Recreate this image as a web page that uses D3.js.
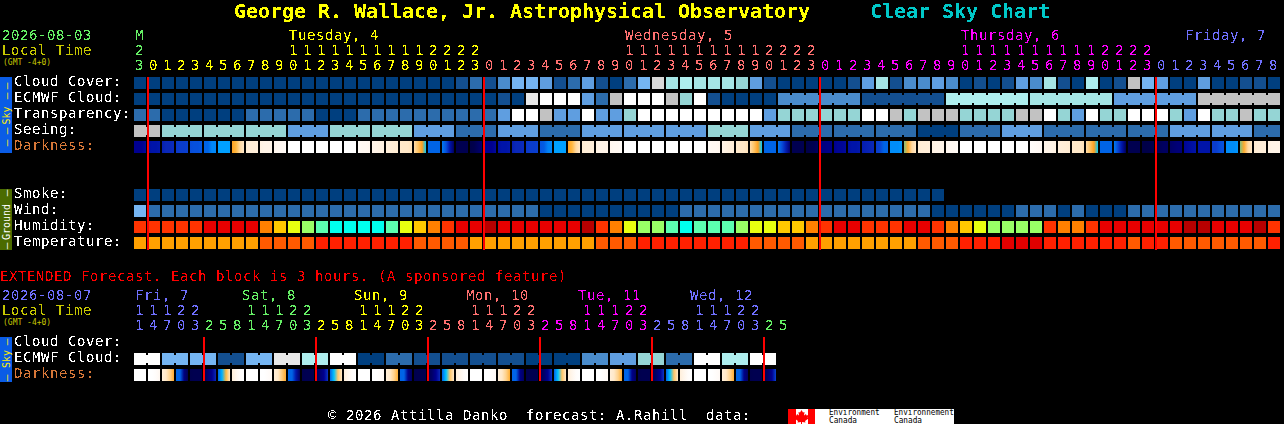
<!DOCTYPE html>
<html>
<head>
<meta charset="utf-8">
<title>Clear Sky Chart</title>
<script src="https://cdn.jsdelivr.net/npm/d3@7"></script>
<style>
html, body { margin: 0; background: #000; }
svg { display: block; }
text { font-family: "DejaVu Sans Mono", monospace; font-size: 14px; letter-spacing: 0.5713px; white-space: pre; }
rect { shape-rendering: crispEdges; }
</style>
</head>
<body>
<div class="chart"></div>
<script>
// cloud style levels: 0-8 dark blue to pale teal, 9-12 grey to white
var levelColors = ["#003f7f", "#134f90", "#2c6cac", "#4a8ccc", "#5f9ee0", "#75b5f2", "#95d5d5", "#a5e5e5", "#aeeeee", "#c2c2c2", "#d8d8d8", "#e8e8e8", "#ffffff"];

var cloudCover = [0,0,0,0,0,0,0,0,0,0,0,0,0,0,0,0,0,0,0,0,0,
  0,0,1,2,1,3,5,5,4,1,2,4,1,0,2,5,10,7,8,7,7,7,6,4,1,
  0,0,0,0,0,1,4,7,1,3,3,4,3,0,1,0,1,4,3,7,1,0,8,0,1,9,5,4,0,0,4,0,0,1,1,0];

// first 46 hours are single blocks, after that six-hour blocks
var ecmwfHourly = [0,0,0,0,0,0,0,0,0,0,0,0,0,0,0,0,0,0,0,0,0,
  0,0,0,0,0,1,0,11,12,12,12,4,2,9,12,12,12,9,6,12,1,0,0,0,0];
var ecmwfSixHour = [3,1,8,7,4,9];

var transparency = [2,2,0,0,0,0,0,0,2,2,2,2,2,0,0,0,2,2,2,2,2,
  2,2,2,2,2,4,12,12,9,4,4,12,4,4,6,12,12,12,12,12,12,12,12,12,4,
  6,6,6,6,6,6,12,12,9,6,9,9,9,6,6,6,6,9,9,12,6,4,12,6,6,12,12,12,6,4,12,6,6,9,6,6];

var seeingBlocks = [9,6,6,6,4,6,6,4,2,4,2,4,4,4,6,4,2,2,2,0,2,4,2,2,2,4,4,2];
var seeingSpans = [2,3,3,3,3,3,3,3,3,3,3,3,3,3,3,3,3,3,3,3,3,3,3,3,3,3,3,2];

var smoke = [0,0,0,0,0,0,0,0,0,0,0,0,0,0,0,0,0,0,0,0,0,0,0,0,0,0,0,0,0,
  0,0,0,0,0,0,0,0,0,0,0,0,0,0,0,0,0,0,0,0,0,0,0,0,0,0,0,0,0];

var wind = [5,2,2,2,2,2,2,2,2,2,2,2,2,2,2,2,2,2,2,2,2,
  2,2,2,2,2,2,2,2,0,0,0,0,0,0,0,0,0,0,2,2,2,2,2,2,2,2,2,2,2,2,2,
  2,2,2,2,2,0,0,0,0,0,0,2,2,2,0,2,0,0,0,2,2,2,2,2,2,2,2,2,2,2];

var humidityColors = ["#ff3300", "#e80000", "#b80000", "#ff8000", "#ffc800", "#e8ff10", "#99ff66", "#5cffb0", "#00ffee"];
var humidity = [0,0,0,0,0,1,1,1,1,3,4,5,6,7,8,8,8,8,7,5,4,
  3,0,1,1,2,1,1,1,1,1,1,2,0,3,5,6,6,7,8,7,7,7,6,5,5,4,4,3,0,1,1,
  0,0,0,1,1,0,3,4,5,6,6,6,6,0,3,3,0,1,1,1,1,1,1,2,2,1,1,1,2,0];

var temperatureColors = ["#ffa000", "#ff5a00", "#ff2000", "#e00000"];
var temperature = [0,0,0,0,0,0,0,0,0,1,1,1,1,2,2,2,2,2,2,2,1,
  1,1,1,0,0,0,0,0,0,0,0,0,1,1,1,2,2,2,2,2,2,2,2,1,1,1,1,0,0,0,0,
  0,0,0,0,1,1,1,2,2,2,3,3,3,2,2,2,2,2,2,1,2,2,1,1,1,1,1,1,1,2];

// darkness as limiting magnitude, four readings across every block
var darkDomain = [6.5, 6.2, 5.8, 5.4, 5, 4.5, 4, 3.5, 3, 2.5, 2, 1.5, 1, 0.5, 0, -0.5, -1, -1.5, -2, -2.5, -3];
var darkRange = ["#000048", "#000050", "#000070", "#000090", "#0014a8", "#0a28b8", "#0a3ccc", "#0650dc", "#0064e6", "#0088f8", "#00a0ff", "#00ccff", "#80c080", "#ffa020", "#ffb840", "#ffd8a0", "#ffe8c8", "#ffeed8", "#fff4e8", "#fff8f2", "#ffffff"];

var darkness = [
  [5.4,5.4,5.4,5.2],[5.1,5,5,4.9],[4.7,4.5,4.5,4.4],[4.1,4,4,3.9],[3.6,3.5,3.5,3.3],[3,3,2.5,2.5],[2,2,2,2],
  [0.5,0,-0.5,-1],[-1.3,-1.5,-1.5,-1.6],[-1.8,-2,-2,-2],[-2.3,-2.5,-2.5,-2.7],
  [-3,-3,-3,-3],[-3,-3,-3,-3],[-3,-3,-3,-3],[-3,-3,-3,-3],[-3,-3,-3,-3],
  [-2.7,-2.5,-2.5,-2.3],[-2,-2,-1.8,-1.8],[-1.6,-1.5,-1.4,-1.3],[-1.1,-1,-1,-0.8],[-0.6,-0.2,0.5,1.5],
  [3,3,3,3],[2.7,3.5,5,6],[6.2,6.2,6.2,6.2],[6.5,6.3,6,5.8],
  [5.4,5.4,5.4,5.2],[5.1,5,5,4.9],[4.7,4.5,4.5,4.4],[4.1,4,4,3.9],[3.4,3.2,2.6,2.5],[2,2,2,2],
  [0.5,0,-0.5,-1],[-1.3,-1.5,-1.5,-1.6],[-1.8,-2,-2,-2],[-2.3,-2.5,-2.5,-2.7],
  [-3,-3,-3,-3],[-3,-3,-3,-3],[-3,-3,-3,-3],[-3,-3,-3,-3],[-3,-3,-3,-3],[-3,-3,-3,-3],
  [-2.7,-2.5,-2.5,-2.3],[-2,-1.8,-1.6,-1.5],[-1.2,-1,-1,-0.8],[-0.6,-0.2,0.5,1.5],
  [3,3,3,3],[2.7,3.6,4.8,5.8],[6.2,6.2,6.2,6.2],[6.5,6.3,6.2,6],
  [5.6,5.6,5.5,5.5],[5.4,5.3,5.3,5.2],[5.1,5,5,4.9],
  [4.8,4.7,4.6,4.5],[4,3.8,3,3],[2.4,2.4,2.4,2.2],[1,0.3,-0.5,-1],[-1.3,-1.5,-1.5,-1.6],[-1.8,-2,-2,-2],[-2.3,-2.5,-2.5,-2.7],
  [-3,-3,-3,-3],[-3,-3,-3,-3],[-3,-3,-3,-3],[-3,-3,-3,-3],[-3,-3,-3,-3],
  [-2.8,-2.7,-2.6,-2.5],[-2.1,-2,-2,-1.8],[-1.6,-1.5,-1.4,-1.3],[-1.1,-1,-1,-0.8],[-0.6,-0.2,0.5,1.5],
  [3,3,3,3],[2.7,3.8,5,6.1],[6.2,6.2,6.2,6.2],[6.5,6.5,6.4,6.3],[6.2,6.1,6,6],[5.9,5.8,5.7,5.7],[5.3,5.2,5.1,5],
  [5,5,5,5],[4,4,3.6,3.4],[2.4,2.4,2.4,2.2],[1,0.3,-0.5,-1],[-1.3,-1.5,-1.5,-1.6],[-1.8,-2,-2,-2]
];

var extEcmwf = [12,5,5,1,5,11,8,12,0,2,1,1,1,1,0,0,3,4,6,2,12,8,12];

var extDarkness = [
  [-3,-3,-3,-3],[-3,-3,-2.8,-2.4],[-1.6,-1,-0.4,0.3],[3,3,5.6,6.2],[6.3,6.2,6.2,6.2],[6.2,5.8,5.4,4.5],[3,1.8,0,-1],[-1.5,-2.2,-2.8,-3],
  [-3,-3,-3,-3],[-3,-3,-2.8,-2.6],[-1.5,-1,-0.3,0.3],[3,3,5,6],[6.3,6.2,6.2,6.2],[6.2,5.8,5.4,4.2],[3,1.6,-0.2,-1],[-1.6,-2.2,-2.8,-3],
  [-3,-3,-3,-3],[-3,-3,-2.8,-2.6],[-1.5,-1,-0.4,0.2],[3,3,5.5,6],[6.3,6.2,6.2,6.2],[6.2,5.9,5.4,4.5],[3,1.6,-0.2,-1],[-1.6,-2.2,-2.8,-3],
  [-3,-3,-3,-3],[-3,-3,-2.8,-2.6],[-1.5,-1,-0.4,0.2],[3,3,5.5,6],[6.3,6.2,6.2,6.2],[6.2,5.9,5.4,4.2],[3,1.6,-0.2,-1],[-1.6,-2.2,-2.8,-3],
  [-3,-3,-3,-3],[-3,-3,-2.8,-2.6],[-1.5,-1,-0.4,0.2],[3,3,5.5,6],[6.3,6.2,6.2,6.2],[6.2,5.9,5.4,4.2],[3,1.6,-0.2,-1],[-1.6,-2.2,-2.8,-3],
  [-3,-3,-3,-3],[-3,-3,-2.8,-2.6],[-1.5,-1,-0.4,0.2],[3,3,5.5,6],[6.3,6.2,6.2,6.2],[6.2,5.9,5.4,3.8]
];

// hour ticks, each with the colour of its day
var green = "#66f066", yellow = "#ffff00", salmon = "#ff7070", magenta = "#ff00ff", blue = "#7070ff";
var hourTens = ["2","","","","","","","","","","","1","1","1","1","1","1","1","1","1","1","2","2","2","2",
  "","","","","","","","","","","1","1","1","1","1","1","1","1","1","1","2","2","2","2",
  "","","","","","","","","","","1","1","1","1","1","1","1","1","1","1","2","2","2","2",
  "","","","","","","","",""];
var hourOnes = ["3","0","1","2","3","4","5","6","7","8","9","0","1","2","3","4","5","6","7","8","9","0","1","2","3",
  "0","1","2","3","4","5","6","7","8","9","0","1","2","3","4","5","6","7","8","9","0","1","2","3",
  "0","1","2","3","4","5","6","7","8","9","0","1","2","3","4","5","6","7","8","9","0","1","2","3",
  "0","1","2","3","4","5","6","7","8"];
var hourDays = [[1, green], [24, yellow], [24, salmon], [24, magenta], [9, blue]];
var dayLabels = [["M", 0, green], ["Tuesday, 4", 11, yellow], ["Wednesday, 5", 35, salmon], ["Thursday, 6", 59, magenta], ["Friday, 7", 75, blue]];
var midnights = [1, 25, 49, 73];

var extTens = ["1","1","1","2","2","","","","1","1","1","2","2","","","","1","1","1","2","2","","","","1","1","1","2","2","","","","1","1","1","2","2","","","","1","1","1","2","2","",""];
var extOnes = ["1","4","7","0","3","2","5","8","1","4","7","0","3","2","5","8","1","4","7","0","3","2","5","8","1","4","7","0","3","2","5","8","1","4","7","0","3","2","5","8","1","4","7","0","3","2","5"];
var extDays = [[5, blue], [8, green], [8, yellow], [8, salmon], [8, magenta], [8, blue], [2, green]];
var extDayLabels = [["Fri, 7", 135, blue], ["Sat, 8", 242, green], ["Sun, 9", 354, yellow], ["Mon, 10", 466, salmon], ["Tue, 11", 578, magenta], ["Wed, 12", 690, blue]];
var extMidnights = [5, 13, 21, 29, 37, 45];

var skyRows = ["Cloud Cover:", "ECMWF Cloud:", "Transparency:", "Seeing:", "Darkness:"];
var groundRows = ["Smoke:", "Wind:", "Humidity:", "Temperature:"];
var extRows = ["Cloud Cover:", "ECMWF Cloud:", "Darkness:"];

var svg = d3.select(".chart").append("svg").attr("width", 1284).attr("height", 424);
var defs = svg.append("defs");

// hard edged text, the original is drawn without smoothing
var filter = defs.append("filter").attr("id", "hard");
filter.append("feComponentTransfer").append("feFuncA").attr("type", "discrete").attr("tableValues", "0 0 1 1");

var marks = svg.append("g");
var labels = svg.append("g").attr("filter", "url(#hard)");
var small = svg.append("g"); // tiny text falls apart under the hard filter

var xHour = d3.scaleBand().domain(d3.range(82)).range([134, 1280]).paddingInner(1 / 7);
var xExt = d3.scaleBand().domain(d3.range(47)).range([134, 790]).paddingInner(1 / 7);
var ySky = d3.scaleBand().domain(skyRows).range([77, 153]).paddingInner(0.25);
var yGround = d3.scaleBand().domain(groundRows).range([189, 249]).paddingInner(0.25);
var yExt = d3.scaleBand().domain(extRows).range([337, 381]).paddingInner(0.25);
var level = d3.scaleOrdinal().domain(d3.range(13)).range(levelColors);
var darkColor = d3.scaleLinear().domain(darkDomain).range(darkRange);

function cells(name, values, x, y, color) {
  marks.append("g").attr("class", name).selectAll("rect")
    .data(values)
    .enter()
    .append("rect")
    .attr("x", function(d, i) { return x(i); })
    .attr("y", y)
    .attr("width", x.bandwidth())
    .attr("height", 12)
    .attr("fill", color);
}

// blocks of several cells hang together by a short bridge over each gap
function blocks(name, values, spans, x, y, color) {
  var col = 0;
  var g = marks.append("g").attr("class", name);
  values.forEach(function(v, b) {
    for (var i = 0; i < spans[b]; i++) {
      g.append("rect").attr("x", x(col)).attr("y", y)
        .attr("width", x.bandwidth()).attr("height", 12).attr("fill", color(v));
      if (i < spans[b] - 1) {
        g.append("rect").attr("x", x(col) + x.bandwidth()).attr("y", y + 2)
          .attr("width", x.step() - x.bandwidth()).attr("height", 8).attr("fill", color(v));
      }
      col++;
    }
  });
}

function darkCells(name, values, x, y) {
  values.forEach(function(d, i) {
    var id = name + i;
    var grad = defs.append("linearGradient").attr("id", id);
    grad.selectAll("stop").data(d).enter().append("stop")
      .attr("offset", function(m, j) { return j / (d.length - 1); })
      .attr("stop-color", function(m) { return darkColor(m); });
  });
  cells(name, values, x, y, function(d, i) { return "url(#" + name + i + ")"; });
}

function midnightLines(cols, x, top, bottom) {
  marks.append("g").selectAll("rect")
    .data(cols)
    .enter()
    .append("rect")
    .attr("x", function(d) { return x(d) - 1; })
    .attr("y", top)
    .attr("width", 2)
    .attr("height", bottom - top)
    .attr("fill", "#ff0000");
}

function rowLabels(rows, y) {
  labels.append("g").selectAll("text")
    .data(rows)
    .enter()
    .append("text")
    .attr("x", 14)
    .attr("y", function(d) { return y(d) + 9; })
    .attr("fill", function(d) { return d == "Darkness:" ? "#d87838" : "#ffffff"; })
    .text(function(d) { return d; });
}

// colour of every hour label, from the day it belongs to
function dayColors(days) {
  var out = [];
  days.forEach(function(d) { for (var i = 0; i < d[0]; i++) out.push(d[1]); });
  return out;
}

function digits(values, colors, x, y) {
  labels.append("g").selectAll("text")
    .data(values)
    .enter()
    .append("text")
    .attr("x", function(d, i) { return x(i) + 1; })
    .attr("y", y)
    .attr("fill", function(d, i) { return colors[i]; })
    .text(function(d) { return d; });
}

function sideBar(top, bottom, fill, name, nameY, textColor, dashes) {
  marks.append("rect").attr("x", 0).attr("y", top).attr("width", 12).attr("height", bottom - top).attr("fill", fill);
  small.append("text").attr("transform", "translate(10," + nameY + ") rotate(-90)")
    .attr("text-anchor", "middle").attr("fill", textColor)
    .style("font-size", "10px").style("letter-spacing", "0").text(name);
  small.append("g").selectAll("text")
    .data(dashes)
    .enter()
    .append("text")
    .attr("transform", function(d) { return "translate(10," + d + ") rotate(-90)"; })
    .attr("text-anchor", "middle").attr("fill", textColor)
    .style("font-size", "11px").style("letter-spacing", "0").text("\u2013");
}

function plainText(str, x, y, color, parent) {
  return (parent || labels).append("text").attr("x", x).attr("y", y).attr("fill", color).text(str);
}

// title
plainText("George R. Wallace, Jr. Astrophysical Observatory", 234, 18, "#ffff00").style("font-size", "20px").style("font-weight", "bold").style("letter-spacing", "-0.04px");
plainText("Clear Sky Chart", 870, 18, "#00c8c8").style("font-size", "20px").style("font-weight", "bold").style("letter-spacing", "-0.04px");

// hourly header
plainText("2026-08-03", 2, 40, green);
plainText("Local Time", 2, 55, "#c8c800");
plainText("(GMT -4+0)", 3, 65, "#c8c800", small).style("font-size", "8px").style("letter-spacing", "0");
dayLabels.forEach(function(d) { plainText(d[0], xHour(d[1]) + 1, 40, d[2]); });
var hourColors = dayColors(hourDays);
digits(hourTens, hourColors, xHour, 55);
digits(hourOnes, hourColors, xHour, 70);

// hourly rows
cells("cloud", cloudCover, xHour, ySky("Cloud Cover:"), function(d) { return level(d); });
blocks("ecmwf", ecmwfHourly.concat(ecmwfSixHour), ecmwfHourly.map(function() { return 1; }).concat(ecmwfSixHour.map(function() { return 6; })), xHour, ySky("ECMWF Cloud:"), level);
cells("transparency", transparency, xHour, ySky("Transparency:"), function(d) { return level(d); });
blocks("seeing", seeingBlocks, seeingSpans, xHour, ySky("Seeing:"), level);
darkCells("dark", darkness, xHour, ySky("Darkness:"));
cells("smoke", smoke, xHour, yGround("Smoke:"), function(d) { return level(d); });
cells("wind", wind, xHour, yGround("Wind:"), function(d) { return level(d); });
cells("humidity", humidity, xHour, yGround("Humidity:"), function(d) { return humidityColors[d]; });
cells("temperature", temperature, xHour, yGround("Temperature:"), function(d) { return temperatureColors[d]; });
midnightLines(midnights, xHour, 77, 250);

rowLabels(skyRows, ySky);
rowLabels(groundRows, yGround);
sideBar(77, 153, "#0a5ce6", "Sky", 115.5, "#ffee00", [86, 96, 131, 143]);
sideBar(189, 250, "#4b6b00", "Ground", 222, "#ffffff", [193, 246]);

// extended forecast
plainText("EXTENDED Forecast. Each block is 3 hours. (A sponsored feature)", 0, 281, "#ff0000");
plainText("2026-08-07", 2, 300, blue);
plainText("Local Time", 2, 315, "#c8c800");
plainText("(GMT -4+0)", 3, 325, "#c8c800", small).style("font-size", "8px").style("letter-spacing", "0");
extDayLabels.forEach(function(d) { plainText(d[0], d[1], 300, d[2]); });
var extColors = dayColors(extDays);
digits(extTens, extColors, xExt, 315);
digits(extOnes, extColors, xExt, 330);

blocks("extEcmwf", extEcmwf, extEcmwf.map(function() { return 2; }), xExt, yExt("ECMWF Cloud:"), level);
darkCells("extDark", extDarkness, xExt, yExt("Darkness:"));
midnightLines(extMidnights, xExt, 337, 381);
rowLabels(extRows, yExt);
sideBar(337, 382, "#0a5ce6", "Sky", 359, "#ffee00", [342, 378]);

// footer
plainText("\u00a9 2026 Attilla Danko  forecast: A.Rahill  data:", 328, 420, "#ffffff");

var logo = marks.append("g");
logo.append("rect").attr("x", 788).attr("y", 409).attr("width", 166).attr("height", 15).attr("fill", "#ffffff");
logo.append("rect").attr("x", 788).attr("y", 409).attr("width", 8).attr("height", 15).attr("fill", "#ff0000");
logo.append("rect").attr("x", 808).attr("y", 409).attr("width", 7).attr("height", 15).attr("fill", "#ff0000");
logo.append("path").attr("fill", "#ff0000")
  .attr("d", "M801.5 410l1.5 2.5 1.5-.5-.5 3.5 2-1.5.5 1.5 2-.5-.8 2.5.8 1-3.5 2.5.5 1.5-3.5-.5v2.5h-1v-2.5l-3.5.5.5-1.5-3.5-2.5.8-1-.8-2.5 2 .5.5-1.5 2 1.5-.5-3.5 1.5.5z");
[["Environment", 829], ["Environnement", 894]].forEach(function(d) {
  plainText(d[0], d[1], 415, "#000000", small).style("font-size", "8px").style("letter-spacing", "0").attr("textLength", d[0].length * 4.6).attr("lengthAdjust", "spacingAndGlyphs");
  plainText("Canada", d[1], 423, "#000000", small).style("font-size", "8px").style("letter-spacing", "0").attr("textLength", 28).attr("lengthAdjust", "spacingAndGlyphs");
});
</script>
</body>
</html>
